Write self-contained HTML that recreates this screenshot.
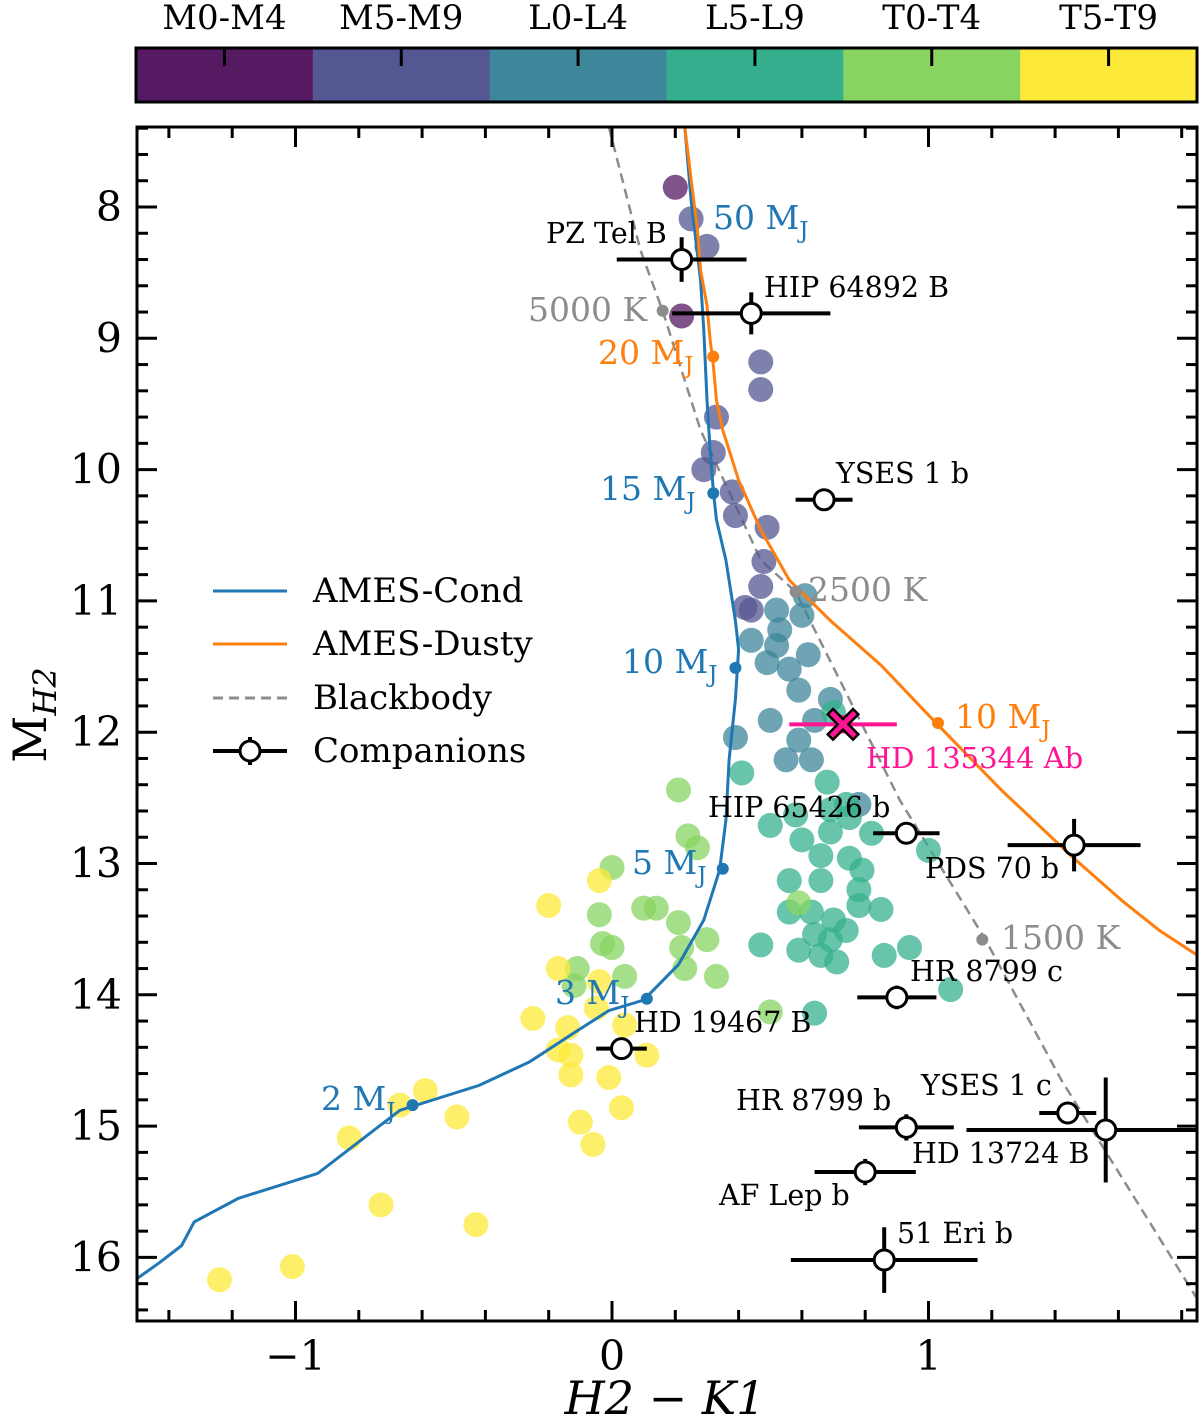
<!DOCTYPE html>
<html><head><meta charset="utf-8">
<style>
html,body{margin:0;padding:0;background:#fff;}
svg{display:block;font-family:"DejaVu Serif","Liberation Serif",serif;}
</style></head>
<body>
<svg id="chart" width="1200" height="1419" viewBox="0 0 1200 1419" xmlns="http://www.w3.org/2000/svg"></svg>
<script>
// ---- data ----
const spTypes = ["M0-M4","M5-M9","L0-L4","L5-L9","T0-T4","T5-T9"];
const spColors = ["#561a63","#545792","#3e8699","#35b08e","#88d462","#fde93a"];
const ptM0 = [[0.20,7.85],[0.22,8.83]];
const ptM5 = [[0.25,8.09],[0.30,8.30],[0.47,9.18],[0.47,9.39],[0.33,9.60],[0.32,9.87],[0.29,10.00],[0.38,10.17],[0.39,10.35],[0.49,10.44],[0.48,10.70],[0.47,10.89],[0.42,11.05],[0.44,11.07]];
const ptL0 = [[0.52,11.07],[0.61,10.96],[0.60,11.11],[0.53,11.22],[0.44,11.30],[0.52,11.34],[0.49,11.47],[0.56,11.52],[0.62,11.41],[0.59,11.68],[0.50,11.91],[0.64,11.91],[0.69,11.75],[0.39,12.04],[0.59,12.06],[0.63,12.21],[0.55,12.21],[0.78,12.55]];
const ptL5 = [[0.41,12.31],[0.70,11.85],[0.50,12.71],[0.58,12.63],[0.69,12.59],[0.69,12.76],[0.75,12.65],[0.60,12.82],[0.66,12.94],[0.75,12.96],[0.56,13.13],[0.66,13.13],[0.79,13.05],[0.78,13.20],[0.78,13.32],[0.85,13.35],[0.56,13.37],[0.63,13.37],[0.70,13.43],[0.64,13.54],[0.69,13.58],[0.74,13.51],[0.59,13.66],[0.66,13.70],[0.71,13.75],[0.86,13.70],[0.94,13.64],[0.47,13.62],[0.64,14.14],[1.00,12.90],[1.07,13.96],[0.82,12.77],[0.68,12.38],[0.74,12.55]];
const ptT0 = [[0.21,12.44],[0.24,12.79],[0.27,12.88],[0.00,13.03],[0.10,13.34],[0.14,13.34],[-0.04,13.39],[-0.03,13.61],[0.00,13.64],[0.21,13.45],[0.30,13.58],[0.22,13.64],[0.23,13.80],[0.33,13.86],[-0.11,13.80],[0.04,13.86],[0.50,14.13],[-0.12,13.93],[0.59,13.30]];
const ptT5 = [[-0.04,13.13],[-0.20,13.32],[-0.17,13.80],[-0.04,13.90],[-0.25,14.18],[-0.14,14.25],[-0.05,14.10],[-0.17,14.42],[-0.13,14.46],[-0.13,14.61],[-0.01,14.63],[0.11,14.46],[-0.59,14.73],[-0.49,14.93],[0.03,14.86],[-0.10,14.97],[-0.83,15.09],[-0.06,15.14],[-0.73,15.60],[-0.43,15.75],[-1.01,16.07],[-1.24,16.17],[0.04,14.23],[-0.67,14.84]];
const fieldGroups = [ptM0,ptM5,ptL0,ptL5,ptT0,ptT5];

const condX = [-1.50,-1.43,-1.36,-1.32,-1.18,-0.93,-0.67,-0.42,-0.26,-0.12,-0.01,0.10,0.21,0.29,0.34,0.36,0.37,0.39,0.40,0.39,0.36,0.33,0.32,0.31,0.30,0.29,0.28,0.25,0.23];
const condY = [16.16,16.04,15.91,15.73,15.55,15.36,14.88,14.69,14.51,14.29,14.12,14.04,13.77,13.43,13.05,12.67,12.21,11.75,11.37,11.15,10.69,10.38,10.16,9.85,9.47,8.94,8.56,7.95,7.39];
const dustyX = [0.23,0.25,0.27,0.28,0.30,0.31,0.32,0.33,0.35,0.40,0.47,0.56,0.69,0.85,1.02,1.23,1.45,1.61,1.73,1.85];
const dustyY = [7.39,7.79,8.18,8.48,8.75,9.01,9.20,9.47,9.70,10.08,10.46,10.84,11.15,11.49,11.92,12.44,12.94,13.28,13.51,13.70];
const bbX = [-0.01,0.09,0.16,0.28,0.47,0.58,0.91,1.18,1.42,1.85];
const bbY = [7.39,8.33,8.79,9.70,10.69,10.93,12.52,13.58,14.65,16.32];

const condMassX = [-0.63,0.11,0.35,0.39,0.32];
const condMassY = [14.84,14.03,13.04,11.51,10.18];
const dustyMassX = [0.32,1.03];
const dustyMassY = [9.14,11.93];
const bbTX = [0.16,0.58,1.17];
const bbTY = [8.79,10.93,13.58];

const compNames = ["PZ Tel B","HIP 64892 B","YSES 1 b","HIP 65426 b","PDS 70 b","HR 8799 c","HD 19467 B","YSES 1 c","HD 13724 B","HR 8799 b","AF Lep b","51 Eri b"];
const compX = [0.22,0.44,0.67,0.93,1.46,0.90,0.03,1.44,1.56,0.93,0.80,0.86];
const compY = [8.40,8.81,10.23,12.77,12.86,14.02,14.41,14.90,15.03,15.01,15.35,16.02];
const compXerr = [0.205,0.25,0.09,0.105,0.21,0.125,0.08,0.09,0.44,0.15,0.16,0.295];
const compYerr = [0.17,0.16,0.03,0.05,0.2,0.09,0.04,0.05,0.4,0.1,0.1,0.25];
const targetX = [0.73], targetY = [11.94], targetXerr = [0.17], targetYerr = [0.07];

const xTicks = [-1,0,1];
const yTicks = [8,9,10,11,12,13,14,15,16];

// ---- axes ----
const L=137,R=1197,T=127,B=1321;
function sx(v){return 612+v*316.5;}
function sy(v){return 207+(v-8)*131.3;}
const NS="http://www.w3.org/2000/svg";
const svg=document.getElementById('chart');
function el(tag,attrs,parent){const e=document.createElementNS(NS,tag);for(const k in attrs)e.setAttribute(k,attrs[k]);(parent||svg).appendChild(e);return e;}

// colorbar
const cb=el('g',{});


const cbW=(1197-136)/6;
spTypes.forEach((t,i)=>{
  const r=el('rect',{x:136+i*cbW,y:48,width:cbW+0.5,height:54,fill:spColors[i]},cb);
  
  
  el('line',{x1:136+(i+0.5)*cbW,x2:136+(i+0.5)*cbW,y1:48,y2:66,stroke:'#000','stroke-width':3},cb);
  const tx=el('text',{x:136+(i+0.5)*cbW,y:29,'font-size':34,'text-anchor':'middle'},cb);
  tx.textContent=t;
  
  
});
el('rect',{x:136,y:48,width:1061,height:54,fill:'none',stroke:'#000','stroke-width':3},cb);

// clip
const defs=el('defs',{});
const cp=el('clipPath',{id:'clip'},defs);
el('rect',{x:L,y:T,width:R-L,height:B-T},cp);
const plot=el('g',{'clip-path':'url(#clip)'});

function poly(xs,ys,attrs){
  const d=xs.map((x,i)=>(i?'L':'M')+sx(x).toFixed(1)+','+sy(ys[i]).toFixed(1)).join(' ');
  return el('path',Object.assign({d:d,fill:'none'},attrs),plot);
}
const bb=poly(bbX,bbY,{stroke:'#8c8c8c','stroke-width':2.5,'stroke-dasharray':'10,6'});



fieldGroups.forEach((g,gi)=>{
  g.forEach(p=>{
    const c=el('circle',{cx:sx(p[0]),cy:sy(p[1]),r:12.5,fill:spColors[gi],'fill-opacity':0.75},plot);
    
    
  });
});

const cond=poly(condX,condY,{stroke:'#1f77b4','stroke-width':3});


const dusty=poly(dustyX,dustyY,{stroke:'#ff7f0e','stroke-width':3});



condMassX.forEach((x,i)=>{const c=el('circle',{cx:sx(x),cy:sy(condMassY[i]),r:6,fill:'#1f77b4'},plot);});
dustyMassX.forEach((x,i)=>{const c=el('circle',{cx:sx(x),cy:sy(dustyMassY[i]),r:6,fill:'#ff7f0e'},plot);});
bbTX.forEach((x,i)=>{const c=el('circle',{cx:sx(x),cy:sy(bbTY[i]),r:6,fill:'#8c8c8c'},plot);});

compX.forEach((x,i)=>{
  const g=el('g',{},plot);
  
  
  const cx=sx(x),cy=sy(compY[i]);
  el('line',{x1:sx(x-compXerr[i]),x2:sx(x+compXerr[i]),y1:cy,y2:cy,stroke:'#000','stroke-width':4},g);
  el('line',{x1:cx,x2:cx,y1:sy(compY[i]-compYerr[i]),y2:sy(compY[i]+compYerr[i]),stroke:'#000','stroke-width':4},g);
  el('circle',{cx:cx,cy:cy,r:10,fill:'#fff',stroke:'#000','stroke-width':3},g);
});
{
  const g=el('g',{},plot);
  
  
  const cx=sx(targetX[0]),cy=sy(targetY[0]);
  el('line',{x1:sx(targetX[0]-targetXerr[0]),x2:sx(targetX[0]+targetXerr[0]),y1:cy,y2:cy,stroke:'#ff1493','stroke-width':4},g);
  el('line',{x1:cx,x2:cx,y1:sy(targetY[0]-targetYerr[0]),y2:sy(targetY[0]+targetYerr[0]),stroke:'#ff1493','stroke-width':4},g);
  el('path',{d:`M${cx-10},${cy-10} L${cx+10},${cy+10} M${cx+10},${cy-10} L${cx-10},${cy+10}`,stroke:'#000','stroke-width':10,'stroke-linecap':'square'},g);
  el('path',{d:`M${cx-10},${cy-10} L${cx+10},${cy+10} M${cx+10},${cy-10} L${cx-10},${cy+10}`,stroke:'#ff1493','stroke-width':5,'stroke-linecap':'square'},g);
}

function txt(s,x,y,size,fill,name,parent){const t=el('text',{x:x,y:y,'font-size':size,fill:fill},parent||plot);t.textContent=s;return t;}
function mj(s,x,y,fill){const t=el('text',{x:x,y:y,'font-size':33,fill:fill},plot);
  const a=el('tspan',{},t);a.textContent=s+' M';const b=el('tspan',{'font-size':23,dy:9},t);b.textContent='J';return t;}
const compLabelPos=[[546,243],[764,297],[836,483],[708,817],[925,878],[910,981],[634,1032],[921,1095],[912,1163],[736,1110],[719,1205],[897,1243]];
compNames.forEach((n,i)=>txt(n,compLabelPos[i][0],compLabelPos[i][1],28.5,'#000','companion-label'));
txt('HD 135344 Ab',866,768,29,'#ff1493','target-label');
mj('50',713,229,'#1f77b4');mj('15',600,500,'#1f77b4');mj('10',622,673,'#1f77b4');mj('5',632,874,'#1f77b4');mj('3',555,1004,'#1f77b4');mj('2',321,1110,'#1f77b4');
mj('20',598,364,'#ff7f0e');mj('10',955,728,'#ff7f0e');
txt('5000 K',528,321,33,'#8c8c8c','temp-label');txt('2500 K',808,601,33,'#8c8c8c','temp-label');txt('1500 K',1001,949,33,'#8c8c8c','temp-label');

const lg=el('g',{});


const legNames=['AMES-Cond','AMES-Dusty','Blackbody','Companions'];
const legY=[591,644,698,751];
legNames.forEach((n,i)=>{
  const y=legY[i];
  const attrs={x1:213,x2:287,y1:y,y2:y,stroke:['#1f77b4','#ff7f0e','#8c8c8c','#000'][i],'stroke-width':i==3?4:3};
  if(i==2)attrs['stroke-dasharray']='10,6';
  el('line',attrs,lg);
  if(i==3){el('line',{x1:250,x2:250,y1:y-14,y2:y+14,stroke:'#000','stroke-width':4},lg);el('circle',{cx:250,cy:y,r:10,fill:'#fff',stroke:'#000','stroke-width':3},lg);}
  txt(n,313,y+11,34,'#000','legend-entry',lg);
});

const ax=el('g',{});


for(let v=-1.4;v<=1.85;v+=0.2){const x=sx(v);const maj=Math.abs(v-Math.round(v))<1e-6;const len=maj?20:11;
  el('line',{x1:x,x2:x,y1:B,y2:B-len,stroke:'#000','stroke-width':3},ax);el('line',{x1:x,x2:x,y1:T,y2:T+len,stroke:'#000','stroke-width':3},ax);}
for(let v=7.4;v<=16.5;v+=0.2){const y=sy(v);const maj=Math.abs(v-Math.round(v))<1e-6;const len=maj?20:11;
  el('line',{x1:L,x2:L+len,y1:y,y2:y,stroke:'#000','stroke-width':3},ax);el('line',{x1:R,x2:R-len,y1:y,y2:y,stroke:'#000','stroke-width':3},ax);}
el('rect',{x:L,y:T,width:R-L,height:B-T,fill:'none',stroke:'#000','stroke-width':3},ax);
xTicks.forEach(v=>{const t=el('text',{x:sx(v),y:1370,'font-size':41,'text-anchor':'middle'},ax);t.textContent=v<0?'\u2212'+Math.abs(v):String(v);});
yTicks.forEach(v=>{const t=el('text',{x:122,y:sy(v)+14,'font-size':41,'text-anchor':'end'},ax);t.textContent=String(v);});
{const t=el('text',{x:665,y:1414,'font-size':46,'text-anchor':'middle','font-style':'italic'},ax);t.textContent='H2 \u2212 K1';}
{const t=el('text',{transform:'translate(46,715) rotate(-90)','font-size':46,'text-anchor':'middle'},ax);
 const a=el('tspan',{},t);a.textContent='M';const b=el('tspan',{'font-size':32,dy:10,'font-style':'italic'},t);b.textContent='H2';}
</script>
</body></html>
